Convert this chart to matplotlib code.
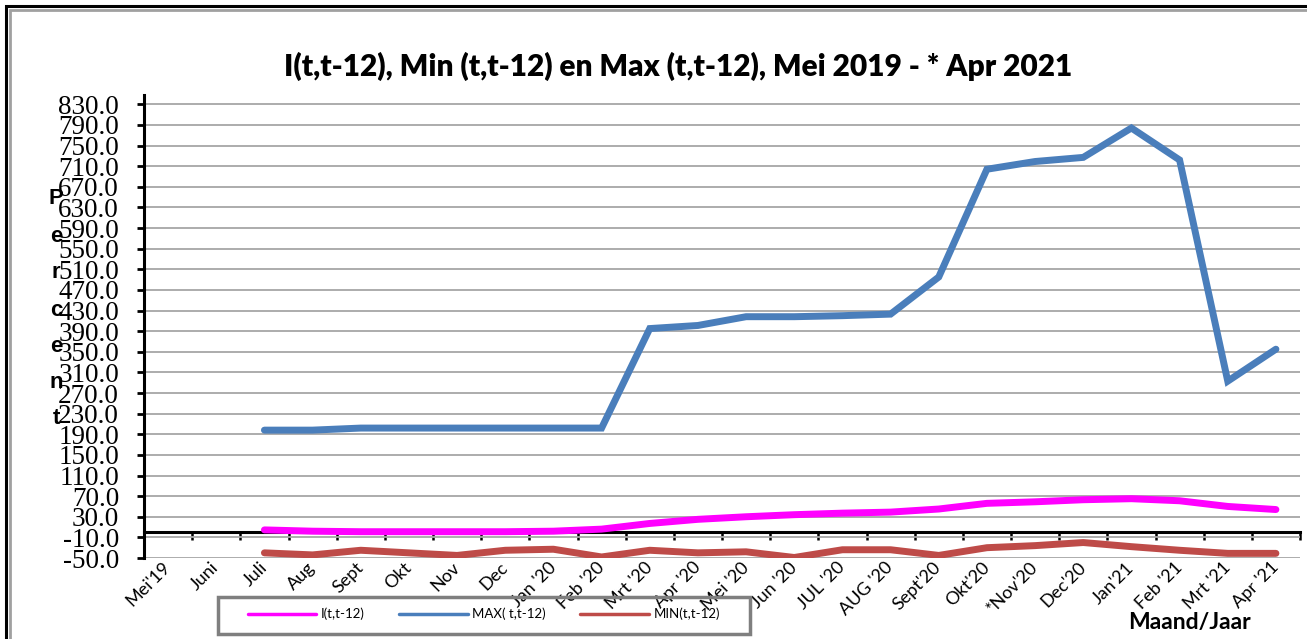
import numpy as np
import matplotlib
matplotlib.use("Agg")
import matplotlib.pyplot as plt
from matplotlib.patches import Rectangle

categories = ["Mei'19", "Juni", "Juli", "Aug", "Sept", "Okt", "Nov", "Dec",
              "Jan '20", "Feb '20", "Mrt '20", "Apr '20", "Mei '20", "Jun '20",
              "JUL '20", "AUG '20", "Sept'20", "Okt'20", "*Nov'20", "Dec'20",
              "Jan'21", "Feb '21", "Mrt '21", "Apr '21"]

nan = np.nan
i_vals = [nan, nan, 4.5, 2, 1, 1, 1, 1, 2, 6, 17, 25, 30,
          34, 37, 39, 45, 56, 59, 63, 65, 61, 50, 44]
max_vals = [nan, nan, 198, 198, 202, 202, 202, 202, 202, 202, 395, 401, 418,
            418, 420, 423, 495, 704, 719, 727, 784, 722, 293, 355]
min_vals = [nan, nan, -40, -44, -35, -40, -45, -35, -33, -48, -35, -40, -38,
            -49, -34, -34, -45, -30, -26, -20, -28, -35, -41, -41]

y_ticks = np.arange(-50, 831, 40)

W, H = 1307, 639
fig = plt.figure(figsize=(W / 100, H / 100), dpi=100)
ax = fig.add_axes([144 / W, 81 / H, 1156 / W, 463 / H])

x = np.arange(len(categories))
l1, = ax.plot(x, i_vals, color="#FF00FF", lw=5, solid_capstyle="round",
              solid_joinstyle="round", label="I(t,t-12)", zorder=3)
l2, = ax.plot(x, max_vals, color="#4A7EBB", lw=5, solid_capstyle="round",
              solid_joinstyle="miter", label="MAX( t,t-12)", zorder=3)
l3, = ax.plot(x, min_vals, color="#BE4B48", lw=5, solid_capstyle="round",
              solid_joinstyle="round", label="MIN(t,t-12)", zorder=3)

ax.set_xlim(-0.5, len(categories) - 0.5)
ax.set_ylim(-50, 848)
ax.set_yticks(y_ticks)
ax.set_yticklabels([f"{v:.1f}" for v in y_ticks], family="Liberation Serif",
                   fontsize=19.5)
ax.set_xticks(x)
ax.set_xticklabels(categories, rotation=45, ha="right", va="center",
                   rotation_mode="anchor", family="Lato", fontsize=13,
                   color="black")
ax.tick_params(axis="x", length=0, pad=5)
ax.tick_params(axis="y", direction="out", length=5, width=2, pad=13,
               color="black")
ax.grid(axis="y", color="#A6A6A6", lw=1.3, zorder=0)
ax.set_axisbelow(True)
for s in ["top", "right", "bottom"]:
    ax.spines[s].set_visible(False)
ax.spines["left"].set_linewidth(2.2)
ax.spines["left"].set_color("black")

sec = ax.secondary_xaxis(0, transform=ax.transData)
sec.set_xticks(np.arange(-0.5, len(categories), 1))
sec.set_xticklabels([])
sec.tick_params(direction="out", length=5.5, width=1.8, color="black")
sec.spines["bottom"].set_linewidth(2.2)
sec.spines["bottom"].set_color("black")

fig.text(678 / W, 1 - 66 / H,
         "I(t,t-12), Min (t,t-12) en Max (t,t-12), Mei 2019 - * Apr 2021",
         ha="center", va="center", family="Lato", fontweight="heavy",
         fontsize=21.5)

for ch, yp in zip("Percent", [198, 236, 273, 310, 347, 383, 418]):
    fig.text(56 / W, 1 - yp / H, ch, ha="center", va="center",
             family="Liberation Sans", fontweight="bold", fontsize=16,
             color="black")

fig.text(1190 / W, 1 - 623 / H, "Maand/Jaar", ha="center", va="center",
         family="Lato", fontweight="bold", fontsize=16.5)

leg = fig.legend(handles=[l1, l2, l3], loc="center",
                 bbox_to_anchor=(484 / W, 1 - 614 / H), ncol=3, frameon=False,
                 prop={"family": "Lato", "size": 9.5}, handlelength=5.2,
                 handletextpad=0.35, columnspacing=2.6)
for h in leg.get_lines():
    h.set_linewidth(2.5)
fig.add_artist(Rectangle((218 / W, 1 - 634 / H), 532 / W, 37 / H,
                         transform=fig.transFigure, fill=False,
                         ec="#7F7F7F", lw=2.5))

fig.add_artist(Rectangle((6 / W, -0.1), 1.2, 1 - 6 / H + 0.1,
                         transform=fig.transFigure, fill=False,
                         ec="black", lw=2.2))
fig.add_artist(Rectangle((9.5 / W, -0.1), 1.2, 1 - 9.5 / H + 0.1,
                         transform=fig.transFigure, fill=False,
                         ec="#A0A0A0", lw=2))

fig.savefig("out.png", dpi=100)
